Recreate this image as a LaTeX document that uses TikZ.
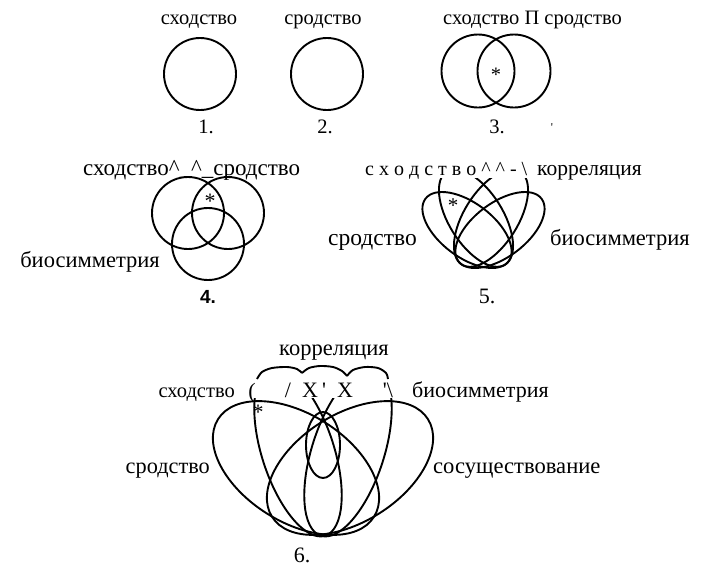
\documentclass[tikz,border=0pt]{standalone}
\usepackage{fontspec}
\setmainfont{Liberation Serif}
\newfontfamily\numfont{Liberation Sans}
\tikzset{
  venn/.style={line width=1.9pt},
  lbl/.style={font=\fontsize{#1}{#1}\selectfont, inner sep=0pt, anchor=base},
  lbl/.default=22,
}
\begin{document}
\begin{tikzpicture}[x=1pt,y=-1pt]
    \useasboundingbox (0,0) rectangle (702,576);

    % Diagram 1 and 2: one set each
    \node[lbl=20.5] (sx1) at (199,24) {сходство};
    \draw[venn] (200,74) circle [radius=36];
    \node[lbl=20.5] (n1) at (206,133) {1.};

    \node[lbl=20.5] (sr2) at (323,24) {сродство};
    \draw[venn] (327,74) circle [radius=36];
    \node[lbl=20.5] (n2) at (325,133) {2.};

    % Diagram 3: two sets
    \node[lbl=20.5, anchor=base west] (sx3) at (443,24) {сходство П сродство};
    \draw[venn] (478,71) circle [radius=36.5];
    \draw[venn] (514,71) circle [radius=36.5];
    \node[lbl=20.5] (st3) at (496,81) {*};
    \node[lbl=20.5] (n3) at (497,133) {3.};
    \node[lbl=12] (sp3) at (552,131) {\textquotesingle};

    % Diagram 4: three circles
    \node[lbl=23, anchor=base west] (sx4) at (83,175) {сходство\textasciicircum\_\textasciicircum\_сродство};
    \draw[venn] (188,213) circle [radius=36];
    \draw[venn] (228,213) circle [radius=36];
    \draw[venn] (208,244) circle [radius=36];
    \node[lbl] (st4) at (210,208) {*};
    \node[lbl=22.5, anchor=base east] (bs4) at (160,267) {биосимметрия};
    \node[lbl=19] (n4) at (208,303) {\numfont\bfseries 4.};

    % Diagram 5: four ellipses
    \begin{scope}
        \clip (410,178) rectangle (560,280);
        \draw[venn] (467,230) ellipse [x radius=52, y radius=27, rotate=-37];
        \draw[venn] (500,230) ellipse [x radius=52, y radius=27, rotate=37];
        \draw[venn] (476,218) ellipse [x radius=55, y radius=27, rotate=-58];
        \draw[venn] (491,218) ellipse [x radius=55, y radius=27, rotate=58];
    \end{scope}
    \node[lbl=20, anchor=base west] (sx5) at (365,175) {с х о д с т в о \textasciicircum{} \textasciicircum{} - \textbackslash};
    \node[lbl=21.5, anchor=base west] (kr5) at (537,175) {корреляция};
    \node[lbl=23.5, anchor=base east] (sr5) at (417,245) {сродство};
    \node[lbl=22.5, anchor=base west] (bs5) at (550,245) {биосимметрия};
    \node[lbl=21] (st5) at (453,212) {*};
    \node[lbl] (n5) at (487,303) {5.};

    % Diagram 6: five sets
    \begin{scope}
        \clip (150,398) rectangle (500,545);
        \draw[venn] (296,468) ellipse [x radius=92, y radius=54, rotate=-32];
        \draw[venn] (350,468) ellipse [x radius=92, y radius=54, rotate=32];
        \draw[venn] (298,452) ellipse [x radius=88, y radius=36, rotate=-72];
        \draw[venn] (348,452) ellipse [x radius=88, y radius=36, rotate=72];
        \draw[venn] (323,445) ellipse [x radius=17, y radius=33];
    \end{scope}
    % top arches above the broken row
    \draw[venn] plot[smooth] coordinates {(257,379) (262,372) (272,368) (287,367) (297,369) (302,373)};
    \draw[venn] plot[smooth] coordinates {(302,373) (309,368) (320,366) (333,367) (342,371) (347,376)};
    \draw[venn] plot[smooth] coordinates {(347,376) (353,370) (365,367) (378,368) (386,373) (388,379)};
    \node[lbl] (g1) at (252,398) {(};
    \node[lbl] (g2) at (288,397) {/};
    \node[lbl] (g3) at (310,397) {X};
    \node[lbl] (g4) at (324,397) {\textquotesingle};
    \node[lbl] (g5) at (345,397) {X};
    \node[lbl] (g6) at (388,397) {\textquotesingle\textbackslash};

    \node[lbl=22.5] (kr6) at (334,355) {корреляция};
    \node[lbl=20.5, anchor=base east] (sx6) at (235,397) {сходство};
    \node[lbl, anchor=base west] (bs6) at (412,397) {биосимметрия};
    \node[lbl=22.3, anchor=base east] (sr6) at (210,473) {сродство};
    \node[lbl=22.6, anchor=base west] (ss6) at (433,473) {сосуществование};
    \node[lbl] (st6) at (258,419) {*};
    \node[lbl] (n6) at (302,562) {6.};
\end{tikzpicture}
\end{document}
